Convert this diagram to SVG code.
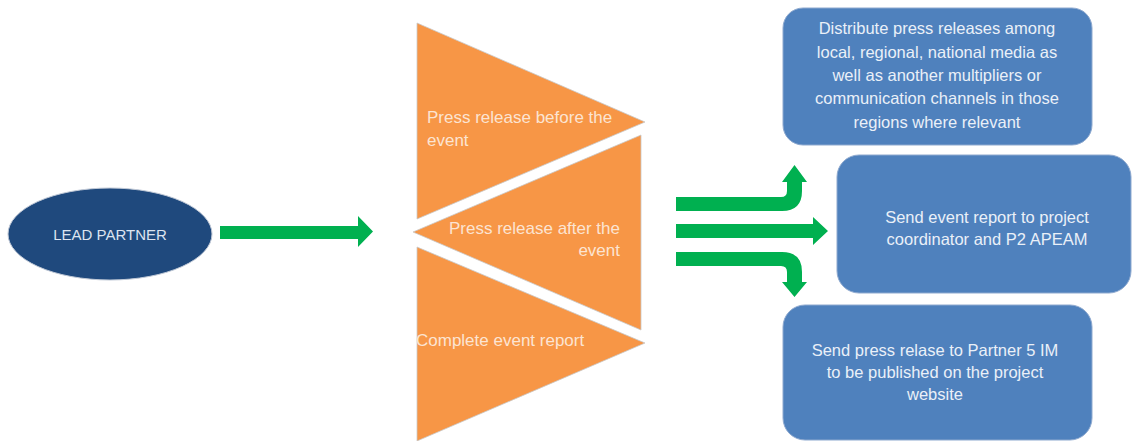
<svg xmlns="http://www.w3.org/2000/svg" width="1134" height="441" viewBox="0 0 1134 441">
<style>
.tri{fill:#F79646;stroke:#C9C9C9;stroke-width:0.8}
.tt{font-family:"Liberation Sans",Arial,sans-serif;font-size:17px;fill:#FCE4D2}
.box{fill:#4F81BD;stroke:#8EA9CF;stroke-width:1}
.bt{font-family:"Liberation Sans",Arial,sans-serif;font-size:16.5px;fill:#EAF0F8;text-anchor:middle}
.arr{fill:#00B050}
</style>
<rect width="1134" height="441" fill="#FFFFFF"/>
<g id="lead-partner">
<ellipse cx="110" cy="234" rx="102" ry="46" fill="#1F497D" stroke="#BFC8D6" stroke-width="1"/>
<text x="110" y="240" text-anchor="middle" font-family="Liberation Sans, Arial, sans-serif" font-size="15" fill="#DCE4F0">LEAD PARTNER</text>
</g>
<g id="connectors">
<path class="arr" d="M220,226 L358,226 L358,216 L373,231.5 L358,247 L358,239 L220,239 Z"/>
<path class="arr" d="M676,197 L781,197 Q787,197 787,191 L787,182 L782,182 L794.5,165 L807,182 L802,182 L802,191 Q802,211 782,211 L676,211 Z"/>
<path class="arr" d="M676,224 L813,224 L813,217 L828,231 L813,245 L813,238 L676,238 Z"/>
<path class="arr" d="M676,252 L782,252 Q802,252 802,272 L802,282 L807,282 L794.5,297 L782,282 L787,282 L787,272 Q787,266 781,266 L676,266 Z"/>
</g>
<g id="press-before">
<polygon class="tri" points="417,23 645,122 417,219"/>
<text class="tt" x="427" y="123">Press release before the</text>
<text class="tt" x="427" y="146">event</text>
</g>
<g id="press-after">
<polygon class="tri" points="641,135 641,330 413,232"/>
<text class="tt" x="620" y="234" text-anchor="end">Press release after the</text>
<text class="tt" x="620" y="256" text-anchor="end">event</text>
</g>
<g id="event-report">
<polygon class="tri" points="417,247 645,343 417,441"/>
<text class="tt" x="416" y="346">Complete event report</text>
</g>
<g id="distribute">
<rect class="box" x="783" y="8" width="309" height="137" rx="20" ry="20"/>
<text class="bt" x="937" y="34">Distribute press releases among</text>
<text class="bt" x="937" y="58">local, regional, national media as</text>
<text class="bt" x="937" y="81">well as another multipliers or</text>
<text class="bt" x="937" y="104">communication channels in those</text>
<text class="bt" x="937" y="128">regions where relevant</text>
</g>
<g id="send-report">
<rect class="box" x="837" y="155" width="294" height="138" rx="22" ry="22"/>
<text class="bt" x="987" y="223">Send event report to project</text>
<text class="bt" x="987" y="245">coordinator and P2 APEAM</text>
</g>
<g id="send-press">
<rect class="box" x="783" y="305" width="309" height="135" rx="22" ry="22"/>
<text class="bt" x="935" y="356">Send press relase to Partner 5 IM</text>
<text class="bt" x="935" y="378">to be published on the project</text>
<text class="bt" x="935" y="400">website</text>
</g>
</svg>
